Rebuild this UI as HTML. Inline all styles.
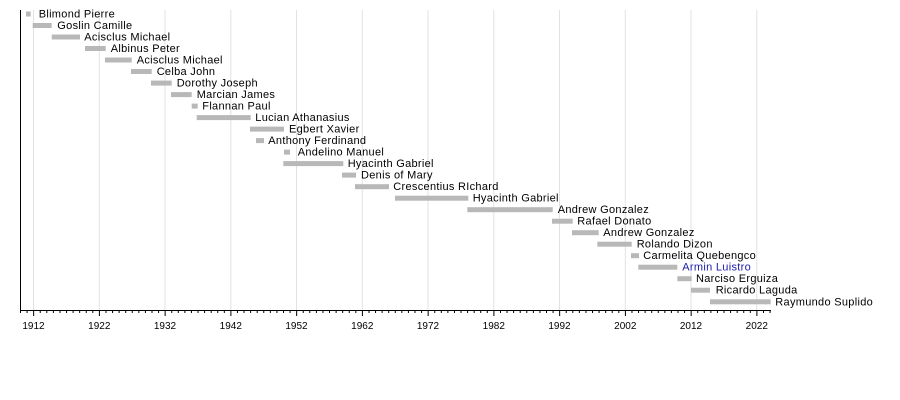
<!DOCTYPE html>
<html>
<head>
<meta charset="utf-8">
<style>
  html,body{margin:0;padding:0;background:#fff;}
  svg{display:block;}
  .lbl{font-family:"Liberation Sans",Arial,sans-serif;font-size:11px;letter-spacing:0.3px;fill:#000;}
  .tk{font-family:"Liberation Sans",Arial,sans-serif;font-size:10px;fill:#000;}
</style>
</head>
<body>
<svg width="900" height="400" viewBox="0 0 900 400" xmlns="http://www.w3.org/2000/svg">
  <rect width="900" height="400" fill="#fff"/>
  <!-- gridlines -->
  <g stroke="#e2e2e2" stroke-width="1">
    <line x1="33.5" y1="10" x2="33.5" y2="310"/>
    <line x1="99.3" y1="10" x2="99.3" y2="310"/>
    <line x1="165" y1="10" x2="165" y2="310"/>
    <line x1="230.8" y1="10" x2="230.8" y2="310"/>
    <line x1="296.5" y1="10" x2="296.5" y2="310"/>
    <line x1="362.3" y1="10" x2="362.3" y2="310"/>
    <line x1="428" y1="10" x2="428" y2="310"/>
    <line x1="493.8" y1="10" x2="493.8" y2="310"/>
    <line x1="559.5" y1="10" x2="559.5" y2="310"/>
    <line x1="625.3" y1="10" x2="625.3" y2="310"/>
    <line x1="691" y1="10" x2="691" y2="310"/>
    <line x1="756.8" y1="10" x2="756.8" y2="310"/>
  </g>

  <!-- bars -->
  <g fill="#b8b8b8">
    <rect x="26" y="11.5" width="4.7" height="5"/>
    <rect x="32.7" y="23" width="19" height="5"/>
    <rect x="51.7" y="34.5" width="28.3" height="5"/>
    <rect x="85" y="46" width="20.7" height="5"/>
    <rect x="105" y="57.5" width="26.7" height="5"/>
    <rect x="131" y="69" width="20.7" height="5"/>
    <rect x="151" y="80.6" width="20.7" height="5"/>
    <rect x="171" y="92.1" width="20.7" height="5"/>
    <rect x="191.7" y="103.6" width="6" height="5"/>
    <rect x="196.7" y="115.1" width="54" height="5"/>
    <rect x="250" y="126.6" width="34" height="5"/>
    <rect x="256" y="138.1" width="8" height="5"/>
    <rect x="284" y="149.6" width="6" height="5"/>
    <rect x="283.3" y="161.1" width="60" height="5"/>
    <rect x="342" y="172.6" width="14" height="5"/>
    <rect x="355" y="184.2" width="34" height="5"/>
    <rect x="395" y="195.7" width="73.3" height="5"/>
    <rect x="467.3" y="207.2" width="85.4" height="5"/>
    <rect x="552" y="218.7" width="20.7" height="5"/>
    <rect x="572" y="230.2" width="26.7" height="5"/>
    <rect x="597.3" y="241.7" width="34.4" height="5"/>
    <rect x="631" y="253.2" width="8" height="5"/>
    <rect x="638.3" y="264.7" width="39" height="5"/>
    <rect x="677.3" y="276.2" width="14.4" height="5"/>
    <rect x="691" y="287.7" width="19" height="5"/>
    <rect x="710" y="299.3" width="60.7" height="5"/>
  </g>

  <!-- labels -->
  <g class="lbl">
    <text x="38.7" y="17.5">Blimond Pierre</text>
    <text x="57.3" y="29">Goslin Camille</text>
    <text x="84.3" y="40.5">Acisclus Michael</text>
    <text x="110.7" y="52">Albinus Peter</text>
    <text x="136.7" y="63.5">Acisclus Michael</text>
    <text x="156.7" y="75">Celba John</text>
    <text x="176.7" y="86.6">Dorothy Joseph</text>
    <text x="196.7" y="98.1">Marcian James</text>
    <text x="202.3" y="109.6">Flannan Paul</text>
    <text x="255.3" y="121.1">Lucian Athanasius</text>
    <text x="289" y="132.6">Egbert Xavier</text>
    <text x="268.3" y="144.1">Anthony Ferdinand</text>
    <text x="297.7" y="155.6">Andelino Manuel</text>
    <text x="347.7" y="167.1">Hyacinth Gabriel</text>
    <text x="361" y="178.6">Denis of Mary</text>
    <text x="393.3" y="190.2">Crescentius RIchard</text>
    <text x="472.7" y="201.7">Hyacinth Gabriel</text>
    <text x="557.7" y="213.2">Andrew Gonzalez</text>
    <text x="577.3" y="224.7">Rafael Donato</text>
    <text x="603.3" y="236.2">Andrew Gonzalez</text>
    <text x="636.7" y="247.7">Rolando Dizon</text>
    <text x="643.3" y="259.2">Carmelita Quebengco</text>
    <text x="682.3" y="270.7" fill="#1a1aa8" style="fill:#1a1aa8">Armin Luistro</text>
    <text x="696" y="282.2">Narciso Erguiza</text>
    <text x="715.7" y="293.7">Ricardo Laguda</text>
    <text x="775.3" y="305.3">Raymundo Suplido</text>
  </g>

  <!-- axes -->
  <line x1="20.5" y1="10" x2="20.5" y2="311" stroke="#000" stroke-width="1"/>
  <line x1="20" y1="310.5" x2="771" y2="310.5" stroke="#000" stroke-width="1"/>

  <!-- minor ticks -->
  <g stroke="#000" stroke-width="1" id="minor"></g>
  <!-- major ticks -->
  <g stroke="#000" stroke-width="1" id="major"></g>

  <g class="tk" text-anchor="middle">
    <text x="33.5" y="329">1912</text>
    <text x="99.3" y="329">1922</text>
    <text x="165" y="329">1932</text>
    <text x="230.8" y="329">1942</text>
    <text x="296.5" y="329">1952</text>
    <text x="362.3" y="329">1962</text>
    <text x="428" y="329">1972</text>
    <text x="493.8" y="329">1982</text>
    <text x="559.5" y="329">1992</text>
    <text x="625.3" y="329">2002</text>
    <text x="691" y="329">2012</text>
    <text x="756.8" y="329">2022</text>
  </g>
</svg>
<script>
(function(){
  var ns="http://www.w3.org/2000/svg";
  var mi=document.getElementById("minor"), ma=document.getElementById("major");
  for(var y=1910;y<=2024;y++){
    var x=20.5+(y-1910)*6.575;
    var l=document.createElementNS(ns,"line");
    l.setAttribute("x1",x);l.setAttribute("x2",x);
    l.setAttribute("y1",310.5);
    var major=((y-1912)%10===0);
    l.setAttribute("y2",major?316:313);
    (major?ma:mi).appendChild(l);
  }
})();
</script>
</body>
</html>
